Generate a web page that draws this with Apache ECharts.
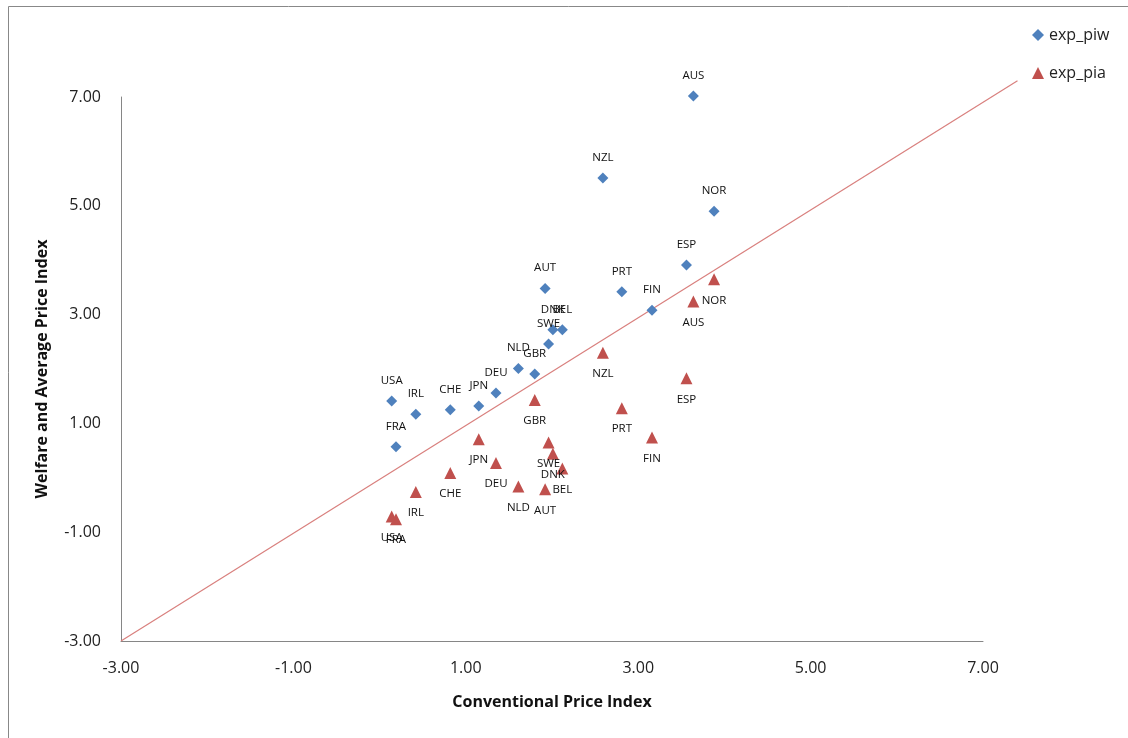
<!DOCTYPE html>
<html>
<head>
<meta charset="utf-8">
<script src="https://cdn.jsdelivr.net/npm/echarts@6/dist/echarts.min.js"></script>
<style>
html,body{margin:0;padding:0;background:#fff;}
#chart{width:1128px;height:738px;}
</style>
</head>
<body>
<div id="chart"></div>
<script>
const countries = ['AUS','NZL','NOR','ESP','PRT','FIN','AUT','DNK','BEL','SWE','NLD','GBR','DEU','JPN','CHE','IRL','USA','FRA'];
const conventional = [3.64, 2.59, 3.88, 3.56, 2.81, 3.16, 1.92, 2.01, 2.12, 1.96, 1.61, 1.80, 1.35, 1.15, 0.82, 0.42, 0.14, 0.19];
const expPiw = [7.02, 5.51, 4.90, 3.91, 3.42, 3.08, 3.48, 2.72, 2.72, 2.46, 2.01, 1.91, 1.56, 1.32, 1.25, 1.17, 1.41, 0.57];
const expPia = [3.24, 2.30, 3.65, 1.83, 1.28, 0.74, -0.21, 0.44, 0.17, 0.65, -0.16, 1.43, 0.27, 0.71, 0.09, -0.26, -0.71, -0.76];
const refLine = [[-3, -3, 7.4, 7.3]];
const axisTicks = { min: -3, max: 7, interval: 2 };

const piwData = countries.map((c, i) => ({ value: [conventional[i], expPiw[i]], name: c }));
const piaData = countries.map((c, i) => ({ value: [conventional[i], expPia[i]], name: c }));

const font = 'Open Sans, Noto Sans, sans-serif';
const chart = echarts.init(document.getElementById('chart'));
chart.setOption({
  animation: false,
  backgroundColor: '#fff',
  graphic: [{
    type: 'rect', left: 6, top: 4, z: -10,
    shape: { width: 1140, height: 750 },
    style: { fill: 'none', stroke: '#888', lineWidth: 1 }
  }],
  grid: { left: 121, right: 145, top: 97, bottom: 97 },
  legend: {
    orient: 'vertical', left: 1027, top: 22, itemGap: 22,
    itemWidth: 12, itemHeight: 12,
    textStyle: { fontFamily: font, fontSize: 16, color: '#222' },
    data: [
      { name: 'exp_piw', icon: 'diamond' },
      { name: 'exp_pia', icon: 'triangle' }
    ]
  },
  xAxis: {
    type: 'value', min: axisTicks.min, max: axisTicks.max, interval: axisTicks.interval,
    name: 'Conventional Price Index', nameLocation: 'middle', nameGap: 53,
    nameTextStyle: { fontFamily: font, fontSize: 16, fontWeight: 'bold', color: '#111' },
    axisLine: { onZero: false, lineStyle: { color: '#868686', width: 1 } },
    axisTick: { show: false },
    splitLine: { show: false },
    axisLabel: { margin: 19, fontFamily: font, fontSize: 16, color: '#222', formatter: v => v.toFixed(2) }
  },
  yAxis: {
    type: 'value', min: axisTicks.min, max: axisTicks.max, interval: axisTicks.interval,
    name: 'Welfare and Average Price Index', nameLocation: 'middle', nameGap: 71,
    nameTextStyle: { fontFamily: font, fontSize: 16, fontWeight: 'bold', color: '#111' },
    axisLine: { show: true, onZero: false, lineStyle: { color: '#868686', width: 1 } },
    axisTick: { show: false },
    splitLine: { show: false },
    axisLabel: { margin: 20, fontFamily: font, fontSize: 16, color: '#222', formatter: v => v.toFixed(2) }
  },
  series: [
    {
      name: 'ref', type: 'custom', data: refLine, clip: false, silent: true, z: 1,
      encode: { x: [0, 2], y: [1, 3] },
      renderItem: (params, api) => {
        const p1 = api.coord([api.value(0), api.value(1)]);
        const p2 = api.coord([api.value(2), api.value(3)]);
        return {
          type: 'line',
          shape: { x1: p1[0], y1: p1[1], x2: p2[0], y2: p2[1] },
          style: { stroke: '#D9807E', lineWidth: 1.2 }
        };
      }
    },
    {
      name: 'exp_piw', type: 'scatter', data: piwData, symbol: 'diamond', symbolSize: 11,
      clip: false, itemStyle: { color: '#4F81BD', opacity: 1 }, z: 3,
      label: { show: true, position: 'top', distance: 9, formatter: p => p.name,
        fontFamily: font, fontSize: 11.5, color: '#111' }
    },
    {
      name: 'exp_pia', type: 'scatter', data: piaData, symbol: 'triangle', symbolSize: 12,
      clip: false, itemStyle: { color: '#C0504D', opacity: 1 }, z: 3,
      label: { show: true, position: 'bottom', distance: 9, formatter: p => p.name,
        fontFamily: font, fontSize: 11.5, color: '#111' }
    }
  ]
});
</script>
</body>
</html>
